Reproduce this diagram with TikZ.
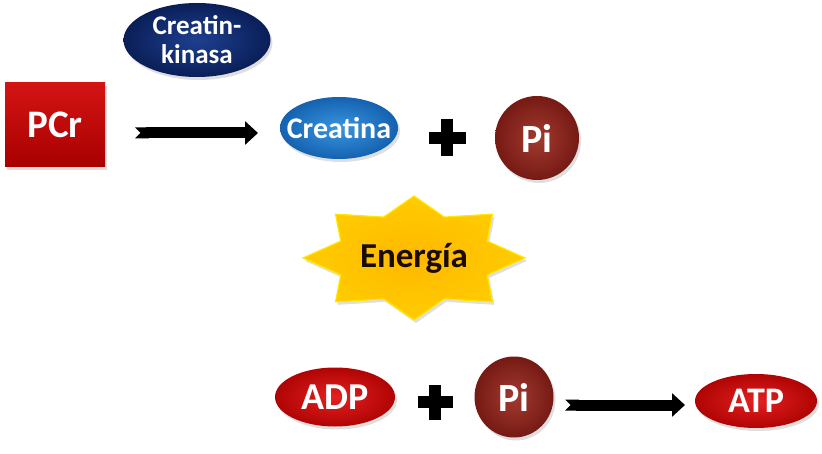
\documentclass[tikz,border=0pt]{standalone}
\usepackage{fontspec}
\setmainfont{Carlito}
\usetikzlibrary{shapes.geometric,arrows.meta,calc,shadows}
\definecolor{navyA}{HTML}{1E3F8F}
\definecolor{navyB}{HTML}{0A1F58}
\definecolor{pcrA}{HTML}{D41414}
\definecolor{pcrB}{HTML}{A80000}
\definecolor{bluA}{HTML}{3A95E0}
\definecolor{bluB}{HTML}{1462B0}
\definecolor{piA}{HTML}{A23A30}
\definecolor{piB}{HTML}{761A14}
\definecolor{redA}{HTML}{E42020}
\definecolor{redB}{HTML}{B00404}
\definecolor{starA}{HTML}{FFB800}
\definecolor{starB}{HTML}{FFCC00}
\definecolor{starE}{HTML}{FFE800}
\definecolor{txtdark}{HTML}{1A0C00}
\tikzset{
  fnt/.style={font=\fontsize{#1}{#1}\selectfont\bfseries},
  shad/.style={drop shadow={opacity=0.25,shadow xshift=2pt,shadow yshift=-3pt}},
  oval/.style={ellipse,inner sep=0pt,text=white,shad},
  wlabel/.style 2 args={label={[text=white,fnt=#1,align=center]center:#2}},
  fatarrow/.style={line width=11pt,black,{Triangle Cap[reversed]}-{Triangle[length=13pt,width=23pt]}},
  plusbar/.style={fill=black}
}
\begin{document}
\begin{tikzpicture}[x=1pt,y=-1pt]
\useasboundingbox (0,0) rectangle (822,454);
% top row
\node[oval,inner color=navyA,outer color=navyB,minimum width=147,minimum height=74,
      wlabel={27}{Creatin-\\[2pt]kinasa}] (ck) at (197,40) {};
\node[rectangle,inner sep=0pt,minimum width=100,minimum height=84,shad,
      top color=pcrA,bottom color=pcrB,text=white,fnt=39] (pcr) at (55,125) {PCr};
\coordinate (a1s) at (135,133);
\coordinate (a1e) at (258,133);
\draw[fatarrow] (a1s) -- (a1e);
\node[oval,inner color=bluA,outer color=bluB,minimum width=118,minimum height=62,
      wlabel={30}{Creatina}] (cre) at (339,128) {};
\node[minimum size=37,inner sep=0pt] (plus1) at (447,138) {};
\fill[plusbar] ($(plus1.center)+(-18.5,-6)$) rectangle ($(plus1.center)+(18.5,6)$);
\fill[plusbar] ($(plus1.center)+(-6,-18.5)$) rectangle ($(plus1.center)+(6,18.5)$);
\node[oval,inner color=piA,outer color=piB,minimum width=84,minimum height=84,
      wlabel={40}{Pi}] (pi1) at (537,138) {};
% star
\node[star,star points=8,star point ratio=1.40,minimum size=124,inner sep=0pt,xscale=1.79,
      inner color=starA,outer color=starB,draw=starE,line width=1.2pt,
      drop shadow={opacity=0.25,shadow xshift=2pt,shadow yshift=-3pt}] (starbg) at (414,258) {};
\node[fnt=35,text=txtdark] (en) at (414,258) {Energía};
% bottom row
\node[oval,inner color=redA,outer color=redB,minimum width=120,minimum height=59,
      wlabel={38}{ADP}] (adp) at (335,397) {};
\node[minimum size=35,inner sep=0pt] (plus2) at (435,402) {};
\fill[plusbar] ($(plus2.center)+(-17.5,-6)$) rectangle ($(plus2.center)+(17.5,6)$);
\fill[plusbar] ($(plus2.center)+(-6,-17.5)$) rectangle ($(plus2.center)+(6,17.5)$);
\node[oval,inner color=piA,outer color=piB,minimum width=79,minimum height=81,
      wlabel={40}{Pi}] (pi2) at (514,397) {};
\coordinate (a2s) at (565,405);
\coordinate (a2e) at (685,405);
\draw[fatarrow] (a2s) -- (a2e);
\node[oval,inner color=redA,outer color=redB,minimum width=122,minimum height=54,
      wlabel={36}{ATP}] (atp) at (756,401) {};
\end{tikzpicture}
\end{document}
